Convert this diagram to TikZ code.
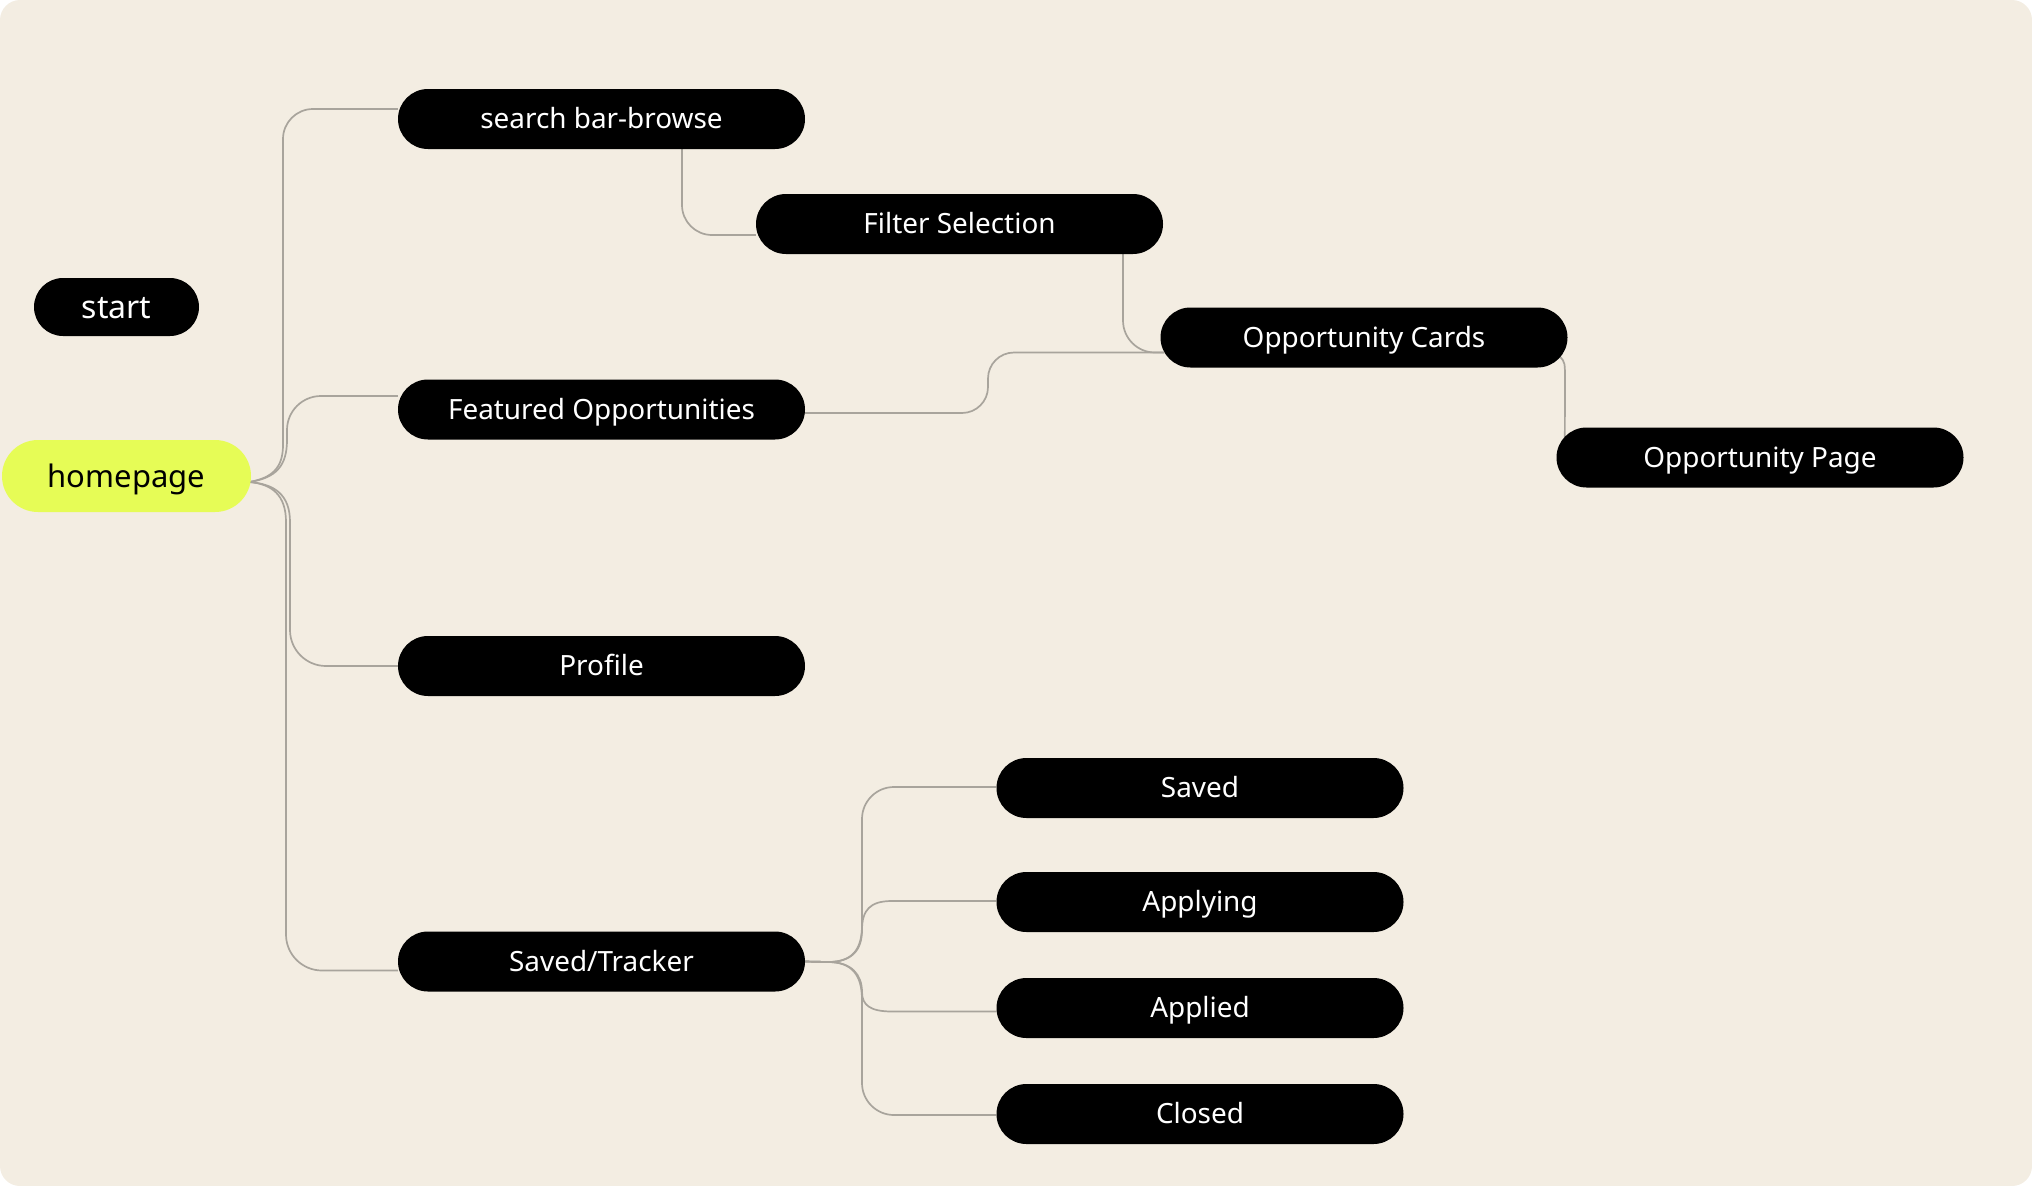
\documentclass[tikz,border=0pt]{standalone}
\usepackage{fontspec}
\setmainfont{Noto Sans}
\usetikzlibrary{calc}
\definecolor{bgc}{HTML}{F3EDE2}
\definecolor{lnc}{HTML}{A8A49C}
\definecolor{hpc}{HTML}{E6FC56}
\pgfdeclarelayer{bottom}
\pgfdeclarelayer{lines}
\pgfsetlayers{bottom,lines,main}
\begin{document}
\begin{tikzpicture}[x=1pt,y=-1pt,
  pill/.style={fill=black,text=white,rounded corners=30pt,minimum width=407pt,
    minimum height=60pt,inner sep=0pt,font=\fontsize{27.9}{33}\selectfont,
    text height=19.9pt,text depth=0pt},
  conn/.style={draw=lnc,line width=1.7pt}]
\useasboundingbox (0,0) rectangle (2032,1186);
\begin{pgfonlayer}{bottom}
\fill[bgc,rounded corners=20pt] (0,0) rectangle (2032,1186);
\end{pgfonlayer}

\node[pill,minimum width=165pt,minimum height=58pt,rounded corners=29pt,
  font=\fontsize{32}{38}\selectfont,text height=22.8pt] (st) at (116.5,307) {start};
\node[pill,fill=hpc,text=black,minimum width=249pt,minimum height=72pt,rounded corners=36pt,
  font=\fontsize{31}{37}\selectfont,text height=23.5pt] (hp) at (126.5,476) {homepage};

\node[pill] (sb) at (601.5,119) {search bar-browse};
\node[pill] (fs) at (959.5,224) {Filter Selection};
\node[pill] (oc) at (1364,337.5) {Opportunity Cards};
\node[pill] (op) at (1760,457.5) {Opportunity Page};
\node[pill] (fo) at (601.5,409.5) {Featured Opportunities};
\node[pill] (pr) at (601.5,666) {Profile};
\node[pill] (tr) at (601.5,961.5) {Saved/Tracker};
\node[pill] (sv) at (1200,788) {Saved};
\node[pill] (ai) at (1200,902) {Applying};
\node[pill] (ad) at (1200,1008) {Applied};
\node[pill] (cl) at (1200,1114) {Closed};

\begin{pgfonlayer}{lines}
% homepage branches
\draw[conn] ($(hp.east)+(-2,6)$) .. controls (272,478) and (283,468) .. (283,445)
  [rounded corners=30pt] -- (283,109) -- ($(sb.west)+(0,-10)$);
\draw[conn] ($(hp.east)+(-2,6)$) .. controls (276,478) and (287,466) .. (287,440)
  [rounded corners=34pt] -- (287,396) -- ($(fo.west)+(0,-13.5)$);
\draw[conn] ($(hp.east)+(-2,6)$) .. controls (275,484) and (290,495) .. (290,522)
  [rounded corners=36pt] -- (290,666) -- (pr.west);
\draw[conn] ($(hp.east)+(-2,6)$) .. controls (272,484) and (286,495) .. (286,522)
  [rounded corners=36pt] -- (286,970.5) -- ($(tr.west)+(0,9)$);
% search -> filter -> cards
\draw[conn,rounded corners=30pt] ($(sb.south)+(80.5,0)$) -- (682,235) -- ($(fs.west)+(0,11)$);
\draw[conn,rounded corners=32pt] ($(fs.south)+(163.5,0)$) -- (1123,352.5) -- ($(oc.west)+(4,15)$);
\draw[conn,rounded corners=26pt] ($(fo.east)+(0,3.5)$) -- (988,413) -- (988,352.5) -- ($(oc.west)+(4,15)$);
% cards -> page
\draw[conn] ($(oc.east)+(-8,19)$) .. controls (1565,362) .. (1565,382)
  -- ($(op.west)+(8.5,-17)$);
% tracker branches
\draw[conn] (tr.east) -- (828,962) .. controls (852,962) and (862,950) .. (862,925)
  [rounded corners=32pt] -- (862,787) -- ($(sv.west)+(0,-1)$);
\draw[conn] (tr.east) -- (828,962) .. controls (852,962) and (862,950) .. (862,930)
  .. controls (862,910) and (870,901) .. (892,901) -- ($(ai.west)+(0,-1)$);
\draw[conn] (tr.east) -- (828,962) .. controls (852,962) and (862,975) .. (862,992)
  .. controls (862,1005) and (870,1011.5) .. (892,1011.5) -- ($(ad.west)+(0,3.5)$);
\draw[conn] (tr.east) -- (828,962) .. controls (852,962) and (862,975) .. (862,1000)
  [rounded corners=32pt] -- (862,1115) -- ($(cl.west)+(0,1)$);
\end{pgfonlayer}
\end{tikzpicture}
\end{document}
